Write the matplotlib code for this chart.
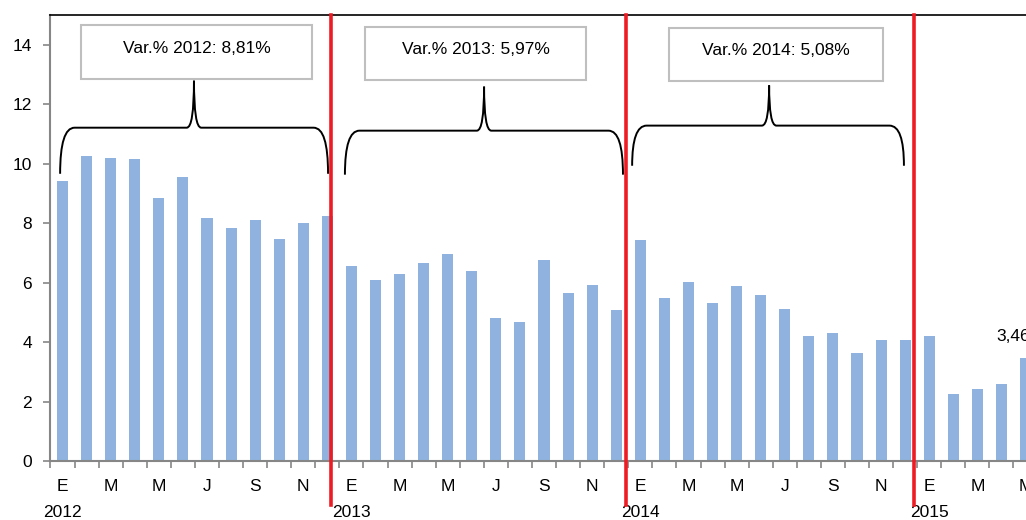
import matplotlib.pyplot as plt
import matplotlib.transforms as mtransforms
from matplotlib.path import Path
from matplotlib.patches import PathPatch, Rectangle
import numpy as np

plt.rcParams['font.family'] = ['Liberation Sans', 'DejaVu Sans']

# monthly values, Jan 2012 - May 2015
values = [9.43, 10.27, 10.20, 10.17, 8.83, 9.55, 8.18, 7.82, 8.09, 7.45, 8.01, 8.25,
          6.57, 6.09, 6.30, 6.67, 6.97, 6.40, 4.81, 4.68, 6.77, 5.66, 5.93, 5.08,
          7.44, 5.49, 6.03, 5.32, 5.89, 5.59, 5.12, 4.21, 4.31, 3.64, 4.07, 4.07,
          4.21, 2.26, 2.42, 2.60, 3.46]
months = ['E', 'F', 'M', 'A', 'M', 'J', 'J', 'A', 'S', 'O', 'N', 'D']
years = ['2012', '2013', '2014', '2015']
var_labels = ['Var.% 2012: 8,81%', 'Var.% 2013: 5,97%', 'Var.% 2014: 5,08%']
last_label = '3,46'

bar_color = '#8FB3DE'
red = '#ED1C24'
gray = '#868686'

fig = plt.figure(figsize=(10.26, 5.2), dpi=100)
ax = fig.add_axes([50/1026, 59/520, 976/1026, 446/520])

x = np.arange(len(values))
ax.bar(x, values, width=0.46, color=bar_color, zorder=2)

ax.set_xlim(-0.52, 40.02)
ax.set_ylim(0, 15)
ax.set_yticks(range(0, 15, 2))
ax.tick_params(axis='y', labelsize=12.5, length=5, width=1.2, color=gray, pad=8)

month_labels = [months[i % 12] for i in x]
ax.set_xticks(x[::2])
ax.set_xticklabels(month_labels[::2], fontsize=12.5)
ax.set_xticks(x - 0.5, minor=True)
ax.tick_params(axis='x', which='major', length=0, pad=13)
ax.tick_params(axis='x', which='minor', length=5, width=1.2, color=gray)

trans = mtransforms.blended_transform_factory(ax.transData, ax.transAxes)
for k, yr in enumerate(years):
    ax.text(12 * k, -0.116, yr, transform=trans, ha='center', va='center', fontsize=12.5)

for s in ['left', 'bottom']:
    ax.spines[s].set_color(gray)
    ax.spines[s].set_linewidth(1.5)
ax.spines['top'].set_color('black')
ax.spines['top'].set_linewidth(1.2)
ax.spines['right'].set_visible(False)

# year separators
for xs in [11.15, 23.42, 35.35]:
    ax.axvline(xs, ymin=-0.099, ymax=1, color=red, lw=2.6, clip_on=False, zorder=5)

# braces and boxes
braces = [(-0.10, 11.03, 5.46, 9.66, 11.21, 12.79),
          (11.73, 23.28, 17.51, 9.63, 11.11, 12.59),
          (23.66, 34.95, 29.35, 9.93, 11.28, 12.63)]
boxes = [(0.77, 10.36, 12.86, 14.68),
         (12.57, 21.74, 12.83, 14.61),
         (25.19, 34.08, 12.79, 14.55)]

for (x0, x1, xm, yt, yh, ytop), (bx0, bx1, by0, by1), lab in zip(braces, boxes, var_labels):
    r = 0.6
    c = 0.3
    verts = [(x0, yt), (x0, yh), (x0 + r, yh),
             (xm - c, yh), (xm, yh), (xm, ytop),
             (xm, yh), (xm + c, yh),
             (x1 - r, yh), (x1, yh), (x1, yt)]
    codes = [Path.MOVETO, Path.CURVE3, Path.CURVE3,
             Path.LINETO, Path.CURVE3, Path.CURVE3,
             Path.CURVE3, Path.CURVE3,
             Path.LINETO, Path.CURVE3, Path.CURVE3]
    ax.add_patch(PathPatch(Path(verts, codes), fill=False, lw=1.4, edgecolor='black', zorder=4))
    ax.add_patch(Rectangle((bx0, by0), bx1 - bx0, by1 - by0, facecolor='white',
                           edgecolor='#BFBFBF', lw=1.5, zorder=4))
    ax.text((bx0 + bx1) / 2, (by0 + by1) / 2 + 0.12, lab, ha='center', va='center',
            fontsize=12.5, zorder=6)

ax.annotate(last_label, (39.5, values[-1]), xytext=(0, 22), textcoords='offset pixels',
            ha='center', va='center', fontsize=12.5)

fig.savefig('out.png', dpi=100)
